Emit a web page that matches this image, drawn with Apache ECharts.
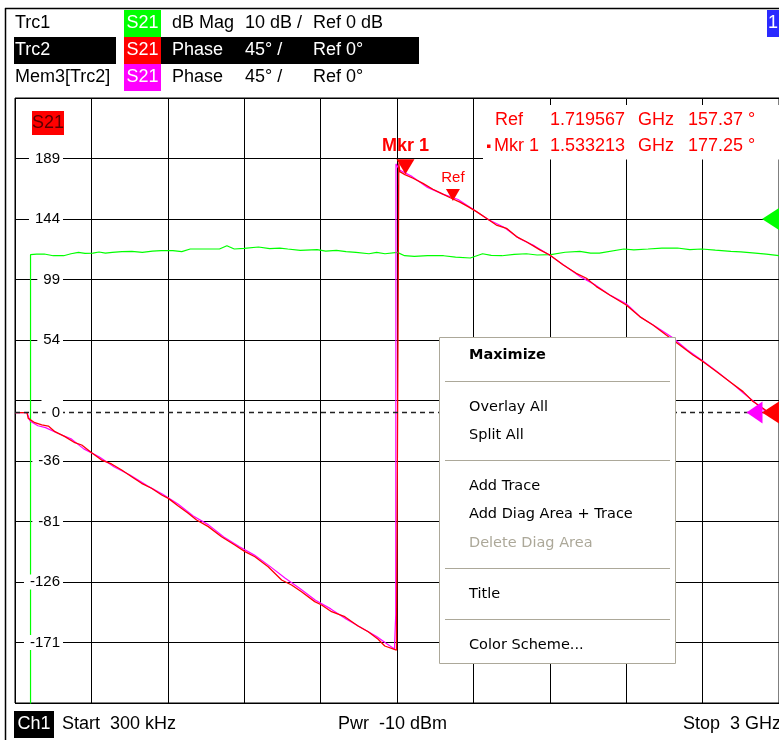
<!DOCTYPE html>
<html><head><meta charset="utf-8">
<script src="https://cdn.jsdelivr.net/npm/echarts@6.0.0/dist/echarts.min.js"></script>
<style>html,body{margin:0;padding:0;background:#fff;}#c{width:779px;height:740px;}</style>
</head><body><div id="c"></div>
<script>
// ---------- data ----------
// Trc2: S21 phase (deg) vs frequency (GHz)
const freqTrc2 = [0, 0.047, 0.052, 0.078, 0.105, 0.131, 0.157, 0.196, 0.235, 0.262, 0.301, 0.340, 0.379, 0.419, 0.458, 0.497, 0.536, 0.576, 0.602, 0.641, 0.680, 0.713, 0.759, 0.811, 0.863, 0.903, 0.942, 0.994, 1.047, 1.086, 1.125, 1.177, 1.204, 1.243, 1.295, 1.347, 1.387, 1.426, 1.452, 1.498, 1.505, 1.507, 1.507, 1.511, 1.531, 1.563, 1.602, 1.641, 1.674, 1.707, 1.747, 1.779, 1.812, 1.851, 1.890, 1.930, 1.969, 2.008, 2.061, 2.100, 2.153, 2.204, 2.244, 2.283, 2.335, 2.400, 2.453, 2.505, 2.557, 2.610, 2.662, 2.702, 2.754, 2.807, 2.859, 2.898, 2.937, 3.0];
const phaseTrc2 = [0, 0, -4.3, -7.5, -9.2, -10.0, -14.2, -17.9, -22.4, -24.1, -29.8, -35.3, -38.2, -42.7, -47.7, -52.6, -56.3, -61.3, -63.8, -69.5, -74.9, -79.9, -84.8, -92.3, -98.5, -103.4, -107.2, -114.6, -124.5, -128.2, -133.2, -140.6, -143.1, -148.1, -151.8, -158.7, -163.0, -168.6, -173.6, -176.6, -177.5, -177.8, 185.5, 179.2, 177.0, 174.3, 170.5, 166.1, 163.1, 160.0, 156.5, 153.2, 149.5, 144.5, 139.5, 137.1, 130.9, 127.1, 121.0, 117.2, 109.8, 103.6, 99.9, 93.7, 87.5, 80.0, 71.4, 65.2, 57.7, 50.3, 42.9, 37.9, 30.5, 23.0, 15.6, 8.2, 3.2, -5.5];
// Mem3[Trc2]: stored phase trace
const freqMem3 = [0, 0.047, 0.060, 0.090, 0.120, 0.170, 0.220, 0.270, 0.330, 0.390, 0.450, 0.520, 0.580, 0.640, 0.700, 0.760, 0.820, 0.880, 0.940, 1.000, 1.060, 1.120, 1.180, 1.240, 1.300, 1.360, 1.420, 1.460, 1.490, 1.494, 1.495, 1.496, 1.510, 1.560, 1.620, 1.680, 1.740, 1.800, 1.860, 1.920, 1.980, 2.040, 2.100, 2.160, 2.220, 2.280, 2.340, 2.400, 2.460, 2.520, 2.580, 2.640, 2.700, 2.760, 2.820, 2.860, 2.900, 2.940, 3.0];
const phaseMem3 = [0, 0, -6.5, -9.8, -11.2, -15.5, -19.5, -27.0, -32.8, -40.5, -46.2, -54.5, -60.8, -68.0, -76.9, -83.5, -92.5, -99.6, -106.0, -114.2, -123.0, -131.0, -139.5, -146.0, -153.5, -160.0, -166.5, -172.0, -175.8, -176.0, -150.0, 185.0, 180.5, 175.5, 167.5, 162.5, 158.5, 151.0, 143.5, 137.8, 129.5, 124.0, 117.0, 109.0, 101.0, 94.8, 87.0, 81.0, 70.5, 63.5, 56.0, 46.5, 38.5, 30.0, 21.0, 14.5, 8.5, 2.0, -5.0];
// Trc1: S21 dB magnitude vs frequency (GHz)
const freqTrc1 = [0.061, 0.061, 0.085, 0.115, 0.150, 0.191, 0.220, 0.249, 0.275, 0.306, 0.330, 0.355, 0.382, 0.420, 0.459, 0.500, 0.540, 0.574, 0.620, 0.655, 0.688, 0.740, 0.803, 0.832, 0.861, 0.900, 0.956, 1.000, 1.040, 1.071, 1.120, 1.186, 1.220, 1.262, 1.300, 1.339, 1.390, 1.420, 1.453, 1.501, 1.530, 1.568, 1.620, 1.683, 1.730, 1.788, 1.836, 1.870, 1.912, 1.960, 2.008, 2.050, 2.104, 2.160, 2.218, 2.260, 2.295, 2.391, 2.430, 2.486, 2.540, 2.601, 2.650, 2.696, 2.750, 2.811, 2.850, 2.907, 2.950, 3.0];
const magTrc1 = [-95, -5.90, -5.79, -5.79, -6.07, -6.07, -5.74, -5.52, -5.68, -5.63, -5.45, -5.63, -5.52, -5.40, -5.35, -5.52, -5.30, -5.24, -5.24, -5.40, -4.96, -4.96, -4.96, -4.41, -4.96, -4.85, -4.63, -4.90, -4.80, -4.96, -5.18, -5.07, -5.30, -5.18, -5.40, -5.52, -5.74, -5.52, -5.74, -5.52, -6.07, -6.18, -6.07, -6.07, -6.30, -6.45, -5.74, -6.00, -6.07, -5.85, -5.74, -5.95, -5.90, -5.50, -5.35, -5.63, -5.63, -4.96, -5.10, -4.96, -4.80, -4.79, -5.05, -4.96, -5.15, -5.35, -5.45, -5.63, -5.80, -6.07];
// axis tick labels (phase, deg)
const phaseTickLabels = [-171, -126, -81, -36, 9, 0, 54, 99, 144, 189];
// markers
const markerNames = ['Ref', 'Mkr 1'];
const markerFreq = [1.719567, 1.533213];
const markerPhase = [157.37, 177.25];
const refPhase = 0, refMag = 0;
// ---------------------------------------------------

const zip = (a, b) => a.map((v, i) => [v, b[i]]);
const F = '"Liberation Sans", Arial, sans-serif';
const M = '"DejaVu Sans", Tahoma, sans-serif';
const g = [];
function T(x, y, text, o) {
  o = o || {};
  g.push({type: 'text', z: o.z || 100, x: x, y: y,
    style: {text: text, fill: o.fill || '#000', font: o.font || ('18px ' + F),
      align: o.align || 'left', verticalAlign: 'middle'}});
}
function R(x, y, w, h, fill, o) {
  o = o || {};
  g.push({type: 'rect', z: o.z || 99, shape: {x: x, y: y, width: w, height: h},
    style: {fill: fill, stroke: o.stroke || null, lineWidth: o.lw || 0}});
}
function L(x1, y1, x2, y2, c, w, z) {
  g.push({type: 'line', z: z || 100, shape: {x1: x1, y1: y1, x2: x2, y2: y2},
    style: {stroke: c, lineWidth: w || 1}});
}
// outer frame
L(5, 8.5, 779, 8.5, '#000', 1.5);
L(5.5, 8, 5.5, 740, '#000', 1.5);
// header
T(15, 23, 'Trc1');
R(124, 10, 37, 27, '#00ff00');
T(142.5, 23, 'S21', {fill: '#fff', align: 'center'});
T(172, 23, 'dB Mag'); T(245, 23, '10 dB /'); T(313, 23, 'Ref 0 dB');
R(14, 37, 102, 27, '#000');
R(161, 37, 258, 27, '#000');
T(15, 50, 'Trc2', {fill: '#fff'});
R(124, 37, 37, 27, '#ff0000');
T(142.5, 50, 'S21', {fill: '#fff', align: 'center'});
T(172, 50, 'Phase', {fill: '#fff'}); T(245, 50, '45° /', {fill: '#fff'}); T(313, 50, 'Ref 0°', {fill: '#fff'});
T(15, 77, 'Mem3[Trc2]');
R(124, 64, 37, 27, '#ff00ff');
T(142.5, 77, 'S21', {fill: '#fff', align: 'center'});
T(172, 77, 'Phase'); T(245, 77, '45° /'); T(313, 77, 'Ref 0°');
R(767, 10, 14, 27, '#2a2aff');
T(773, 23, '1', {fill: '#fff', align: 'center'});
// S21 trace label in diagram
R(32, 111, 32, 24, '#ff0000');
T(48, 123.5, 'S21', {fill: '#5a0000', align: 'center', font: '18px ' + F});
// marker info box
R(483, 105, 296, 54.5, '#fff');
markerNames.forEach((n, i) => {
  const y = 120 + i * 26;
  if (n !== 'Ref') R(487, y - 1.5, 3.5, 3.5, '#ff0000', {z: 101});
  T(n === 'Ref' ? 495 : 494, y, n, {fill: '#ff0000'});
  T(550, y, markerFreq[i].toFixed(6), {fill: '#ff0000'});
  T(638, y, 'GHz', {fill: '#ff0000'});
  T(688, y, markerPhase[i].toFixed(2) + ' °', {fill: '#ff0000'});
});
// context menu
R(439.5, 337.5, 236, 326, '#fff', {stroke: '#aca899', lw: 1, z: 110});
[381, 460, 568, 619].forEach(y => L(445, y + 0.5, 670, y + 0.5, '#aca899', 1, 111));
const menu = [['Maximize', 355, true], ['Overlay All', 407], ['Split All', 435], ['Add Trace', 486],
  ['Add Diag Area + Trace', 514], ['Delete Diag Area', 543, false, true], ['Title', 594], ['Color Scheme...', 645]];
menu.forEach(m => T(469, m[1], m[0], {z: 112, fill: m[3] ? '#aca899' : '#000',
  font: (m[2] ? 'bold ' : '') + '14.5px ' + M}));
// footer
R(14, 711, 40, 27, '#000');
T(34, 724, 'Ch1', {fill: '#fff', align: 'center'});
T(62, 724, 'Start  300 kHz'); T(338, 724, 'Pwr  -10 dBm'); T(683, 724, 'Stop  3 GHz');

const chart = echarts.init(document.getElementById('c'));
const splitBlack = {show: true, lineStyle: {color: '#000', width: 1}};
chart.setOption({
  animation: false,
  backgroundColor: '#fff',
  grid: {left: 15, top: 98, width: 765, height: 605, show: true, borderColor: '#000', borderWidth: 1},
  xAxis: {type: 'value', min: 0, max: 3, interval: 0.3, axisLabel: {show: false},
    axisTick: {show: false}, axisLine: {show: false}, splitLine: splitBlack},
  yAxis: [
    {type: 'value', min: -216, max: 234, interval: 45, axisLabel: {show: false},
      axisTick: {show: false}, axisLine: {show: false}, splitLine: splitBlack},
    {type: 'value', min: -216, max: 234, interval: 45, position: 'left', z: 5,
      axisTick: {show: false}, axisLine: {show: false}, splitLine: {show: false},
      axisLabel: {show: true, customValues: phaseTickLabels, margin: -48, color: '#000',
        formatter: v => (v === 9 ? '   ' : String(v)),
        fontSize: 15, fontFamily: 'Liberation Sans', backgroundColor: '#fff', padding: [0, 3, 0, 6]}},
    {type: 'value', min: -80, max: 20, interval: 10, show: false}
  ],
  graphic: g,
  series: [
    {name: 'Trc1', type: 'line', yAxisIndex: 2, data: zip(freqTrc1, magTrc1), showSymbol: false,
      symbol: 'none', lineStyle: {color: '#00ff00', width: 1.2}, itemStyle: {color: '#00ff00'}, z: 3,
      markPoint: {symbol: 'triangle', symbolSize: [22, 17], symbolRotate: 90, symbolOffset: [-8.5, 0],
        itemStyle: {color: '#00ff00'}, label: {show: false}, data: [{coord: [3, refMag]}]}},
    {name: 'Mem3[Trc2]', type: 'line', yAxisIndex: 0, data: zip(freqMem3, phaseMem3), showSymbol: false,
      symbol: 'none', lineStyle: {color: '#ff00ff', width: 1.2}, itemStyle: {color: '#ff00ff'}, z: 3,
      markPoint: {symbol: 'triangle', symbolSize: [22, 16], symbolRotate: 90, symbolOffset: [-24.5, 0],
        itemStyle: {color: '#ff00ff'}, label: {show: false}, data: [{coord: [3, refPhase]}]}},
    {name: 'Trc2', type: 'line', yAxisIndex: 0, data: zip(freqTrc2, phaseTrc2), showSymbol: false,
      symbol: 'none', lineStyle: {color: '#ff0000', width: 1.3}, itemStyle: {color: '#ff0000'}, z: 4,
      markLine: {silent: true, symbol: 'none', label: {show: false},
        lineStyle: {color: '#222', type: [5, 4], width: 1.3}, data: [{yAxis: refPhase}]},
      markPoint: {itemStyle: {color: '#ff0000'}, data: [
        {coord: [3, refPhase], symbol: 'triangle', symbolSize: [22, 17], symbolRotate: 90, symbolOffset: [-8.5, 0], label: {show: false}},
        {coord: [markerFreq[1], markerPhase[1]], symbol: 'triangle', symbolSize: [18, 15], symbolRotate: 180, symbolOffset: [0, -7.5],
          label: {show: true, formatter: markerNames[1], position: 'top', distance: 4, color: '#ff0000', fontWeight: 'bold', fontSize: 18, fontFamily: 'Liberation Sans'}},
        {coord: [markerFreq[0], markerPhase[0]], symbol: 'triangle', symbolSize: [14, 12], symbolRotate: 180, symbolOffset: [0, -6],
          label: {show: true, formatter: markerNames[0], position: 'top', distance: 4, color: '#ff0000', fontSize: 15, fontFamily: 'Liberation Sans'}}
      ]}}
  ]
});
</script></body></html>
